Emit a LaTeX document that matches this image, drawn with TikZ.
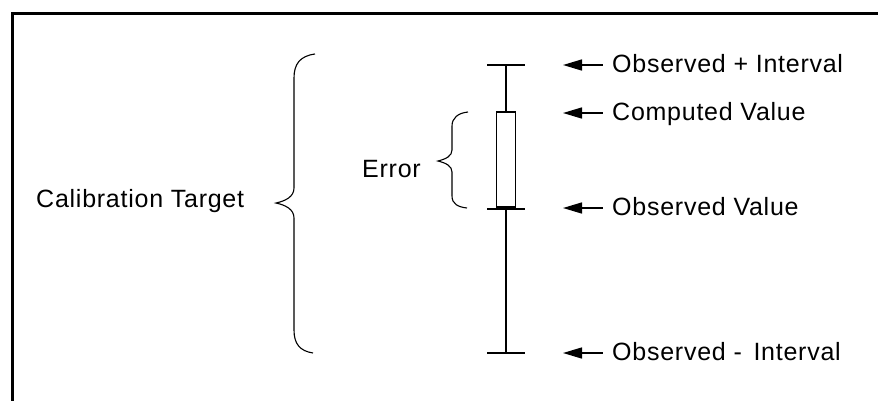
\documentclass[tikz,border=0pt]{standalone}
\usepackage{fontspec}
\setmainfont{Liberation Sans}[LetterSpace=3]
\usetikzlibrary{arrows.meta}
\begin{document}
\begin{tikzpicture}[x=1pt,y=-1pt,
  lbl/.style={anchor=base west,inner sep=0pt,font=\fontsize{25}{28}\selectfont},
  bracepath/.style={line width=1.1pt},
  bar/.style={line width=1.6pt},
  endcap/.style={line width=2pt},
  pointer/.style={line width=1.5pt,{Triangle[length=19pt,width=11pt]}-}]
\useasboundingbox (0,0) rectangle (878,400);
\fill[white] (0,0) rectangle (878,400);
% frame
\draw[line width=3pt] (12.5,401) -- (12.5,13) -- (879,13);
% labels
\node[lbl] (calib) at (36,207) {Calibration Target};
\node[lbl] (err) at (362,177) {Error};
\node[lbl] (obsplus) at (612,72) {Observed + Interval};
\node[lbl] (comp) at (612,120) {Computed Value};
\node[lbl] (obsval) at (612,215) {Observed Value};
\node[lbl] (obsminus) at (612,360) {Observed -\hspace{4pt} Interval};
% coordinates of the bar
\coordinate (top) at (506,65);
\coordinate (bot) at (506,353);
% big brace
\draw[bracepath] (315,54) .. controls (300,56) and (294,64) .. (294,78) -- (294,188)
  .. controls (294,197) and (285,201) .. (276,203)
  .. controls (285,205) and (294,209) .. (294,218) -- (294,330)
  .. controls (294,344) and (300,351) .. (313,353);
% small brace
\draw[bracepath] (468,112) .. controls (458,113) and (452,118) .. (452,126) -- (452,150)
  .. controls (452,156) and (446,159) .. (438,161)
  .. controls (446,163) and (452,166) .. (452,172) -- (452,196)
  .. controls (452,204) and (458,207) .. (467,208);
% error bar
\draw[bar] (top) -- (bot);
\node[draw,line width=1.6pt,fill=white,minimum width=19pt,minimum height=95pt,inner sep=0pt,anchor=south] (box) at (506,208) {};
\draw[endcap] (487,65) -- (525,65);
\draw[endcap] (487,208.5) -- (525,208.5);
\draw[endcap] (487,353) -- (525,353);
% pointers
\coordinate (p1) at (563,65);
\coordinate (p2) at (563,113);
\coordinate (p3) at (563,208);
\coordinate (p4) at (563,353);
\coordinate (q1) at (603,65);
\coordinate (q2) at (603,113);
\coordinate (q3) at (603,208);
\coordinate (q4) at (603,353);
\draw[pointer] (p1) -- (q1);
\draw[pointer] (p2) -- (q2);
\draw[pointer] (p3) -- (q3);
\draw[pointer] (p4) -- (q4);
\end{tikzpicture}
\end{document}
